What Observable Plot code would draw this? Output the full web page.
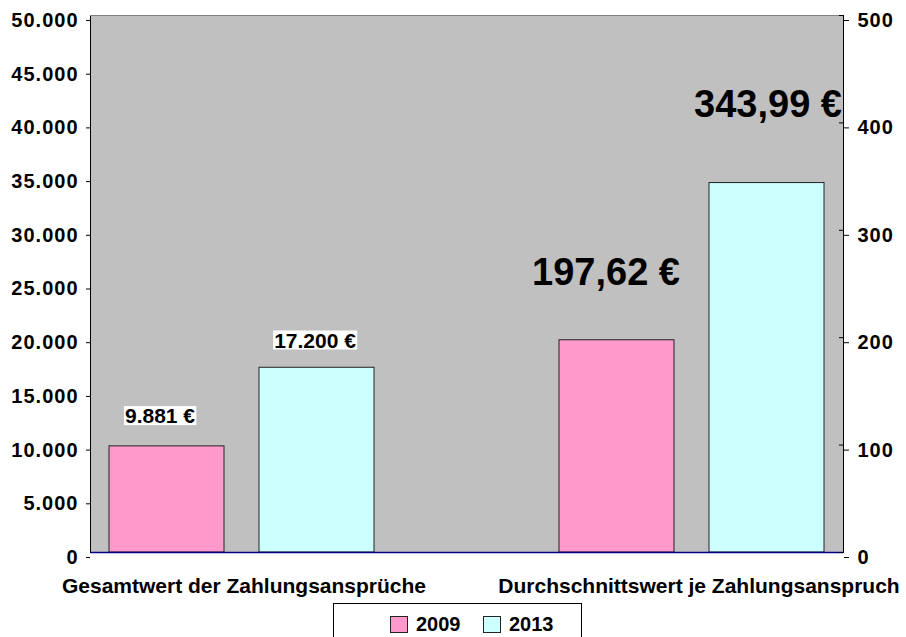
<!DOCTYPE html>
<html>
<head>
<meta charset="utf-8">
<script src="https://cdn.jsdelivr.net/npm/d3@7"></script>
<script src="https://cdn.jsdelivr.net/npm/@observablehq/plot@0.6"></script>
<style>
  body { margin: 0; background: #fff; font-family: "Liberation Sans", Arial, sans-serif; }
  #chart svg { display: block; }
  #chart svg g[aria-label="y-axis tick label"] text { letter-spacing: 1px; }
  #legend {
    position: absolute; left: 333px; top: 603px; width: 249px; height: 40px;
    border: 1px solid #000; background: #fff; box-sizing: border-box;
    font-weight: bold; font-size: 20px; color: #000;
  }
  #legend .item { position: absolute; top: 9px; display: flex; align-items: center; }
  #legend .sw { width: 16px; height: 15px; border: 1px solid #222; margin-right: 8px; }
</style>
</head>
<body>
<div id="chart"></div>
<div id="legend"></div>
<script>
// ---- data ----
const categories = ["Gesamtwert der Zahlungsansprüche", "Durchschnittswert je Zahlungsanspruch"];
const years = ["2009", "2013"];
const values2009 = [9881, 197.62];
const values2013 = [17200, 343.99];
const leftTicks = [0, 5000, 10000, 15000, 20000, 25000, 30000, 35000, 40000, 45000, 50000];
const rightTicks = [0, 100, 200, 300, 400, 500];
const yearColors = ["#FF99CC", "#CCFFFF"];
const axisRatio = 50000 / 500; // primary axis max / secondary axis max

const de = d3.formatLocale({decimal: ",", thousands: ".", grouping: [3], currency: ["", " €"]});
const fmtInt = de.format(",");
const fmtDec = de.format(",.2f");

const rows = [];
categories.forEach((cat, ci) => {
  [values2009, values2013].forEach((vals, yi) => {
    const v = vals[ci];
    rows.push({
      category: cat, ci, year: years[yi], key: ci + "-" + years[yi],
      value: v, y: ci === 0 ? v : v * axisRatio,
      label: (ci === 0 ? fmtInt(v) : fmtDec(v)) + " €"
    });
  });
});
const xDomain = ["0-2009", "0-2013", "gap", "1-2009", "1-2013"];
const catRows = categories.map((c, ci) => ({category: c, key: ci + "-2009"}));
const byKey = k => rows.filter(r => r.key === k);
const boxedLabels = rows.filter(r => r.ci === 0).map(r => r.label);

const font = "'Liberation Sans', Arial, sans-serif";

const plot = Plot.plot({
  width: 906,
  height: 602,
  marginTop: 15,
  marginLeft: 90,
  marginRight: 63,
  marginBottom: 50,
  style: {fontFamily: font, fontWeight: "bold", color: "#000", background: "#fff"},
  x: {domain: xDomain, paddingInner: 0.233, paddingOuter: 0.12, axis: null},
  y: {domain: [0, 50000], axis: null},
  color: {domain: years, range: yearColors},
  marks: [
    Plot.frame({fill: "#C0C0C0", stroke: "#000"}),
    Plot.ruleY([50000], {stroke: "#808080"}),
    Plot.barY(rows, {x: "key", y: "y", fill: "year", stroke: "#222", strokeWidth: 1}),
    Plot.ruleY([0], {stroke: "#000080", strokeWidth: 1.5}),
    Plot.axisY(leftTicks, {anchor: "left", label: null, tickFormat: fmtInt, tickSize: 4, tickPadding: 8,
      fontSize: 20, fontWeight: "bold", dy: 5, stroke: "#000"}),
    Plot.axisY(rightTicks.map(t => t * axisRatio), {anchor: "right", label: null, tickFormat: d => String(d / axisRatio),
      tickSize: 5, tickPadding: 9, fontSize: 20, fontWeight: "bold", dy: 5, stroke: "#000"}),
    Plot.axisY(rightTicks.map(t => t * axisRatio), {anchor: "right", label: null, tickFormat: () => "",
      tickSize: -5, stroke: "#000"}),
    // value labels
    Plot.text(byKey("0-2009"), {x: "key", y: "y", text: "label", dy: -30, dx: -7,
      fontSize: 21, fontWeight: "bold", fill: "#000"}),
    Plot.text(byKey("0-2013"), {x: "key", y: "y", text: "label", dy: -27, dx: -2,
      fontSize: 21, fontWeight: "bold", fill: "#000"}),
    Plot.text(byKey("1-2009"), {x: "key", y: "y", text: "label", dy: -67, dx: -11,
      fontSize: 38, fontWeight: "bold", fill: "#000"}),
    Plot.text(byKey("1-2013"), {x: "key", y: "y", text: "label", dy: -78, dx: 1,
      fontSize: 38, fontWeight: "bold", fill: "#000"}),
    // category labels
    Plot.text(catRows.slice(0, 1), {x: "key", frameAnchor: "bottom", text: "category", dy: 40, dx: 77,
      fontSize: 21, fontWeight: "bold", fill: "#000"}),
    Plot.text(catRows.slice(1), {x: "key", frameAnchor: "bottom", text: "category", dy: 40, dx: 82,
      fontSize: 21, fontWeight: "bold", fill: "#000"})
  ]
});
document.getElementById("chart").appendChild(plot);

// white boxes behind the two value labels of the first category
d3.select(plot).selectAll("text").filter(function () {
  return boxedLabels.includes(this.textContent);
}).each(function () {
  const b = this.getBBox();
  const r = document.createElementNS("http://www.w3.org/2000/svg", "rect");
  if (this.getAttribute("transform")) r.setAttribute("transform", this.getAttribute("transform"));
  r.setAttribute("x", b.x - 1);
  r.setAttribute("y", b.y + 2);
  r.setAttribute("width", b.width + 2);
  r.setAttribute("height", b.height - 4);
  r.setAttribute("fill", "#fff");
  this.parentNode.insertBefore(r, this);
});

// legend
const legend = d3.select("#legend");
const legendLefts = [56, 149];
years.forEach((yr, i) => {
  const it = legend.append("div").attr("class", "item").style("left", legendLefts[i] + "px");
  it.append("div").attr("class", "sw").style("background", yearColors[i]);
  it.append("span").text(yr);
});
</script>
</body>
</html>
